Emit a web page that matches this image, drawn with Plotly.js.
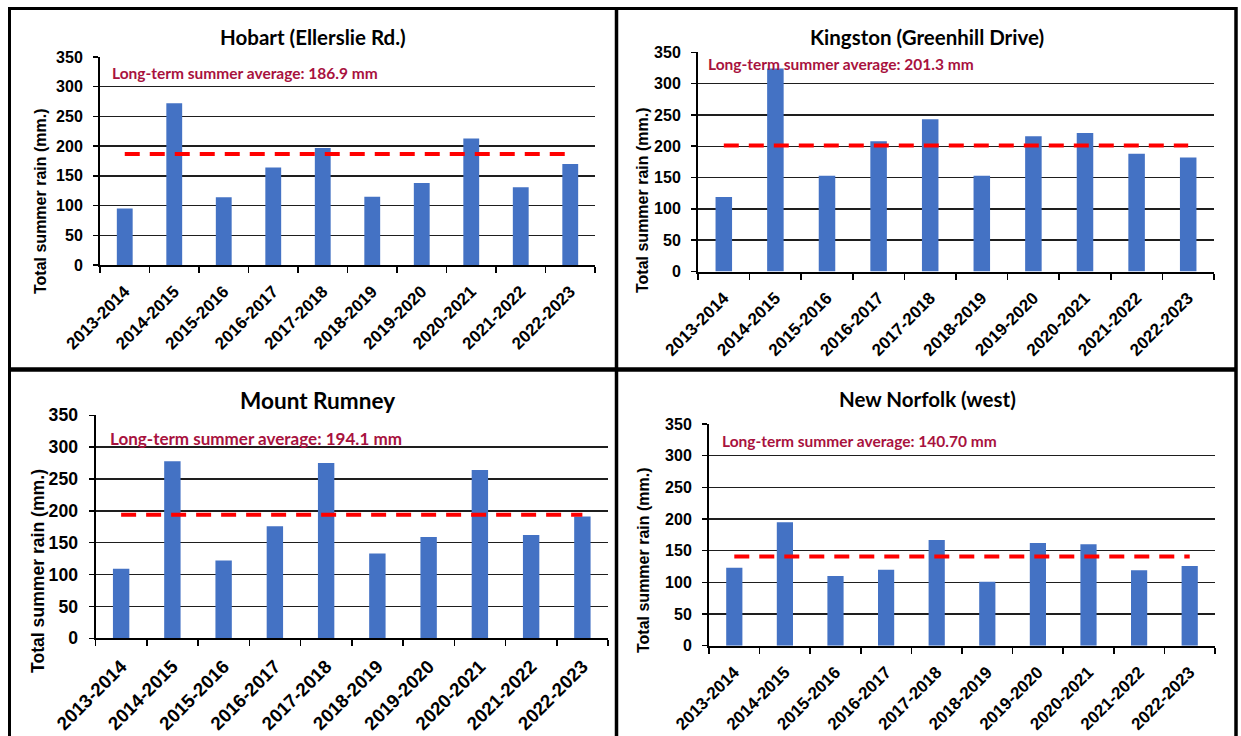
<!DOCTYPE html>
<html>
<head>
<meta charset="utf-8">
<script src="https://cdn.plot.ly/plotly-3.0.1.min.js"></script>
<style>
  html, body { margin: 0; padding: 0; background: #ffffff; }
  #chart { width: 1241px; height: 736px; }
</style>
</head>
<body>
<div id="chart"></div>
<script>
// Summer rainfall totals per season for four stations around Hobart
const seasons = ['2013-2014', '2014-2015', '2015-2016', '2016-2017', '2017-2018',
                 '2018-2019', '2019-2020', '2020-2021', '2021-2022', '2022-2023'];
const hobartRain     = [95, 272, 114, 164, 197, 115, 138, 213, 131, 170];
const kingstonRain   = [119, 324, 153, 208, 243, 153, 216, 221, 188, 182];
const rumneyRain     = [109, 278, 122, 176, 275, 133, 159, 264, 162, 191];
const newNorfolkRain = [123, 195, 110, 120, 167, 101, 162, 160, 119, 126];
const stationNames = ['Hobart (Ellerslie Rd.)', 'Kingston (Greenhill Drive)',
                      'Mount Rumney', 'New Norfolk (west)'];
const averageLabels = ['186.9', '201.3', '194.1', '140.70'];
const yTickValues = [0, 50, 100, 150, 200, 250, 300, 350];
const yTitle = 'Total summer rain (mm.)';

const stationRain = [hobartRain, kingstonRain, rumneyRain, newNorfolkRain];

// Page geometry (pixels) for each of the four panels
const W = 1241, H = 736;
const px = x => x / W;
const py = y => 1 - y / H;
const panels = [
  { plot: [100, 57, 595, 265],      title: [313, 37],  avg: [110, 73],  yTitle: [40, 201], scale: 1 },
  { plot: [698, 52.3, 1214, 271.5], title: [927, 37],  avg: [706, 64],  yTitle: [642, 200], scale: 1 },
  { plot: [95.5, 415.3, 608, 638.3],title: [317, 400], avg: [108, 438], yTitle: [38, 571], scale: 1.1 },
  { plot: [709, 424, 1215, 645.7],  title: [927, 399], avg: [720, 441], yTitle: [643, 560], scale: 1 }
];

const BAR_BLUE = '#4472C4';
const AVG_RED = '#FF0000';
const AVG_TEXT = '#A8123E';
const AXIS_FONT = 'Liberation Sans, Arial, sans-serif';
const TITLE_FONT = 'Lato, Open Sans, sans-serif';

const traces = [];
const layout = {
  width: W, height: H,
  margin: { l: 0, r: 0, t: 0, b: 0 },
  paper_bgcolor: '#ffffff',
  plot_bgcolor: '#ffffff',
  showlegend: false,
  bargap: 0.68,
  annotations: [],
  shapes: []
};

panels.forEach((p, i) => {
  const n = i === 0 ? '' : String(i + 1);
  const xa = 'x' + n, ya = 'y' + n;
  const s = p.scale;
  const avgValue = parseFloat(averageLabels[i]);

  traces.push({
    type: 'bar', x: seasons, y: stationRain[i],
    xaxis: xa, yaxis: ya,
    marker: { color: BAR_BLUE, line: { width: 0 } },
    hoverinfo: 'x+y'
  });
  traces.push({
    type: 'scatter', mode: 'lines',
    x: seasons, y: seasons.map(() => avgValue),
    xaxis: xa, yaxis: ya,
    line: { color: AVG_RED, width: 4, dash: '15px,10px' },
    hoverinfo: 'y'
  });

  layout['xaxis' + n] = {
    domain: [px(p.plot[0]), px(p.plot[2])],
    anchor: ya,
    type: 'category',
    showline: true, linecolor: '#000000', linewidth: 2,
    ticks: 'outside', ticklen: 6, tickwidth: 1.5, tickcolor: '#000000',
    tickson: 'boundaries',
    tickangle: -45,
    ticklabelstandoff: 8,
    showgrid: false, zeroline: false,
    tickfont: { family: AXIS_FONT, size: 17 * s, color: '#000000', weight: 700 },
    fixedrange: true
  };
  layout['yaxis' + n] = {
    domain: [py(p.plot[3]), py(p.plot[1])],
    anchor: xa,
    range: [0, 350],
    tickvals: yTickValues,
    showline: true, linecolor: '#000000', linewidth: 2,
    ticks: 'outside', ticklen: 5, tickwidth: 1.5, tickcolor: '#000000',
    ticklabelstandoff: 7,
    showgrid: true, gridcolor: '#1e1e1e', gridwidth: 1.4,
    zeroline: false,
    tickfont: { family: AXIS_FONT, size: 16 * s, color: '#000000', weight: 700 },
    fixedrange: true
  };

  // Panel title
  layout.annotations.push({
    xref: 'paper', yref: 'paper',
    x: px(p.title[0]), y: py(p.title[1]),
    xanchor: 'center', yanchor: 'middle',
    text: stationNames[i], showarrow: false,
    font: { family: TITLE_FONT, size: 20.5 * s, color: '#000000', weight: 700 }
  });
  // Long-term average note
  layout.annotations.push({
    xref: 'paper', yref: 'paper',
    x: px(p.avg[0]), y: py(p.avg[1]),
    xanchor: 'left', yanchor: 'middle',
    text: 'Long-term summer average: ' + averageLabels[i] + ' mm',
    showarrow: false,
    font: { family: TITLE_FONT, size: 15.5 * s, color: AVG_TEXT, weight: 700 }
  });
  // Vertical axis title
  layout.annotations.push({
    xref: 'paper', yref: 'paper',
    x: px(p.yTitle[0]), y: py(p.yTitle[1]),
    xanchor: 'center', yanchor: 'middle',
    textangle: -90,
    text: yTitle, showarrow: false,
    font: { family: AXIS_FONT, size: 16 * s, color: '#000000', weight: 700 }
  });
});

// Black frame lines separating the panels
const frame = (x0, y0, x1, y1, w) => ({
  type: 'line', xref: 'paper', yref: 'paper',
  x0: px(x0), y0: py(y0), x1: px(x1), y1: py(y1),
  line: { color: '#000000', width: w }
});
layout.shapes.push(
  frame(9.5, 8.5, 1236, 8.5, 3),      // top edge
  frame(9.5, 7, 9.5, 736, 3),         // left edge
  frame(1236, 7, 1236, 736, 3.5),     // right edge
  frame(616.5, 7, 616.5, 736, 3.5),   // middle divider
  frame(9.5, 369.5, 1236, 369.5, 4.5) // horizontal divider
);

Plotly.newPlot('chart', traces, layout, { displayModeBar: false, staticPlot: true });
</script>
</body>
</html>
